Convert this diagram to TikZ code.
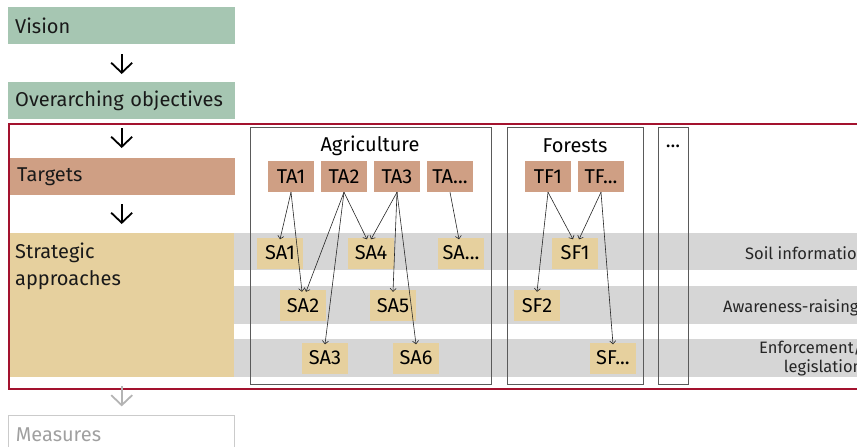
\documentclass[tikz,border=0pt]{standalone}
\usepackage{fontspec}
\setmainfont{Fira Sans}
\usetikzlibrary{arrows.meta}
\definecolor{vgreen}{HTML}{A6C6B2}
\definecolor{tbrown}{HTML}{CF9F84}
\definecolor{stan}{HTML}{E6D09E}
\definecolor{bandgray}{HTML}{D6D6D6}
\definecolor{framered}{HTML}{A3122E}
\definecolor{framegray}{HTML}{5A5A5A}
\definecolor{fadegray}{HTML}{B4B4B4}
\definecolor{fadetext}{HTML}{A0A0A0}
\tikzset{
  mainfont/.style={font=\fontsize{20}{24}\selectfont},
  levelbox/.style={mainfont, anchor=north west, minimum height=37pt, text width=213pt,
    inner xsep=7pt, inner ysep=0pt, align=left, text=black!90},
  bigarrow/.style={line width=1.8pt, -{Straight Barb[length=10pt,width=21pt]}},
  tnode/.style={mainfont, fill=tbrown, minimum width=46pt, minimum height=31pt, inner sep=0pt},
  snode/.style={mainfont, fill=stan, minimum width=46pt, minimum height=31pt, inner sep=0pt},
  link/.style={line width=0.6pt, black!85, -{Straight Barb[length=3pt,width=6pt]}},
  band/.style={fill=bandgray, draw=none},
  sector/.style={draw=framegray, line width=0.8pt},
  rowlabel/.style={font=\fontsize{16.5}{18.5}\selectfont, anchor=base west, align=right,
    inner sep=0pt, text=black!85}
}
\begin{document}
\begin{tikzpicture}[x=1pt,y=-1pt]
\useasboundingbox (0,0) rectangle (857,447);
\clip (0,0) rectangle (857,447);
% bands
\fill[band] (234,233) rectangle (870,270);
\fill[band] (234,286) rectangle (870,324);
\fill[band] (234,339) rectangle (870,377);
% left column
\node[levelbox, fill=vgreen] (vision) at (8,7) {Vision};
\node[levelbox, fill=vgreen] (over) at (8,82) {Overarching objectives};
\node[levelbox, fill=tbrown, text width=211pt] (targets) at (10,158) {Targets};
\node[levelbox, fill=stan, text width=210pt, minimum height=144pt] (strat) at (10,233) {};
\node[mainfont, anchor=base west, align=left, inner sep=0pt, text=black!90] (strattext) at (15,285) {Strategic\\[3pt]approaches};
\node[levelbox, draw=fadegray!70, line width=0.8pt, text=fadetext, text width=212pt] (measures) at (8.4,415.4) {Measures};
% red frame
\draw[framered, line width=2pt] (9,124) rectangle (870,388.5);
% big arrows
\draw[bigarrow, shorten <=10pt, shorten >=8pt] (vision.south) -- (over.north);
\draw[bigarrow, shorten <=9pt, shorten >=10pt] (over.south) -- (over.south |- targets.north);
\draw[bigarrow, shorten <=9pt, shorten >=9pt] (targets.south -| over.south) -- (over.south |- strat.north);
\draw[bigarrow, fadegray, shorten <=9pt, shorten >=9pt] (strat.south -| over.south) -- (over.south |- measures.north);
% sector frames
\draw[sector] (250,127.5) rectangle (491,384);
\draw[sector] (507,127.5) rectangle (643,384);
\draw[sector] (658,127.5) rectangle (688,384);
\node[mainfont] (agri) at (370,146) {Agriculture};
\node[mainfont] (forests) at (575,146) {Forests};
\node[mainfont] (more) at (673,146) {...};
% targets
\node[tnode] (TA1) at (291,176.5) {TA1};
\node[tnode] (TA2) at (344,176.5) {TA2};
\node[tnode] (TA3) at (397,176.5) {TA3};
\node[tnode] (TAx) at (450,176.5) {TA...};
\node[tnode] (TF1) at (548,176.5) {TF1};
\node[tnode] (TFx) at (601,176.5) {TF...};
% strategic approaches
\node[snode] (SA1) at (280,253) {SA1};
\node[snode] (SA4) at (371,253) {SA4};
\node[snode] (SAx) at (461,253) {SA...};
\node[snode] (SA2) at (303,305.5) {SA2};
\node[snode] (SA5) at (393,305.5) {SA5};
\node[snode] (SA3) at (325,358) {SA3};
\node[snode] (SA6) at (416,358) {SA6};
\node[snode] (SF1) at (575,253) {SF1};
\node[snode] (SF2) at (537,305.5) {SF2};
\node[snode] (SFx) at (613,358) {SF...};
% links
\draw[link] (TA1.south) -- ([yshift=-2pt]SA1.north);
\draw[link] (TA1.south) -- ([xshift=-1pt,yshift=-2pt]SA2.north);
\draw[link] (TA2.south) -- ([xshift=3pt,yshift=-2pt]SA2.north);
\draw[link] (TA2.south) -- ([yshift=-2pt]SA3.north);
\draw[link] (TA2.south) -- ([xshift=-4pt,yshift=-2pt]SA4.north);
\draw[link] (TA3.south) -- ([yshift=-2pt]SA4.north);
\draw[link] (TA3.south) -- ([yshift=-2pt]SA5.north);
\draw[link] (TA3.south) -- ([yshift=-2pt]SA6.north);
\draw[link] (TAx.south) -- ([xshift=-2pt,yshift=-2pt]SAx.north);
\draw[link] (TF1.south) -- ([xshift=-2pt,yshift=-2pt]SF1.north);
\draw[link] (TF1.south) -- ([yshift=-2pt]SF2.north);
\draw[link] (TFx.south) -- ([xshift=4pt,yshift=-2pt]SF1.north);
\draw[link] (TFx.south) -- ([yshift=-2pt]SFx.north);
% row labels
\node[rowlabel] (soil) at (745,259) {Soil information};
\node[rowlabel] (aware) at (723,312) {Awareness-raising};
\node[rowlabel] (enforce) at (759,372) {Enforcement/\\legislation};
\end{tikzpicture}
\end{document}
